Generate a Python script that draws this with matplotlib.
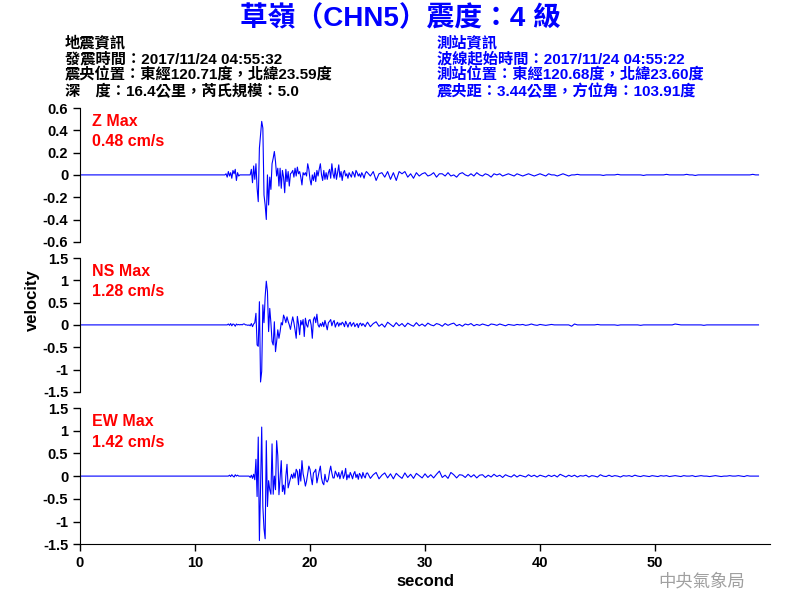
import matplotlib
matplotlib.use("Agg")
import matplotlib.pyplot as plt
import numpy as np

plt.rcParams['font.family'] = ['Liberation Sans', 'Noto Sans CJK TC', 'DejaVu Sans']
plt.rcParams['axes.unicode_minus'] = False

# header text
title = "草嶺（CHN5）震度：4 級"
quake_info = ["地震資訊",
              "發震時間：2017/11/24 04:55:32",
              "震央位置：東經120.71度，北緯23.59度",
              "深　度：16.4公里，芮氏規模：5.0"]
station_info = ["測站資訊",
                "波線起始時間：2017/11/24 04:55:22",
                "測站位置：東經120.68度，北緯23.60度",
                "震央距：3.44公里，方位角：103.91度"]

# sampling of the traces
early_start, early_dt = 12.5, 0.1   # 12.5 .. 24.9 s
late_start, late_dt = 25.0, 0.25    # 25.0 .. 59.0 s

# Z component (cm/s)
z_early = [
    0, 0, 0.01, -0.02, 0.03, -0.01, 0.02, -0.03, 0.04, 0.01,
    0.05, -0.05, 0.02, -0.01, 0, 0, 0, 0, 0, 0,
    0, 0, 0, 0, 0.05, -0.07, 0.08, -0.04, 0.10, -0.12,
    -0.24, 0.24, 0.36, 0.48, 0.42, -0.18, -0.27, -0.40, 0.0, -0.27,
    -0.02, -0.13, 0.10, 0.15, 0.21, 0.12, -0.01, 0.06, -0.10, 0.06,
    -0.12, 0.04, -0.02, -0.16, 0.05, -0.06, 0.03, -0.10, 0.01, 0.02,
    0.04, -0.02, 0.06, -0.01, 0.07, 0.01, 0.03, -0.02, -0.09, 0.02,
    0.0, 0.02, -0.01, 0.10, 0.05, -0.04, -0.09, 0.0, -0.05, 0.02,
    -0.06, 0.04, -0.01, 0.05, 0.10, 0.0, -0.05, 0.04, -0.04, 0.02,
    -0.04, 0.02, 0.05, -0.03, 0.10, 0.01, -0.03, 0.06, -0.04, 0.02,
    0.09, -0.02, 0.03, -0.05, 0.02, 0.04, -0.01, 0.01, -0.03, 0.02,
    0.0, -0.02, 0.03, 0.01, -0.02, 0.04, 0.02, -0.01, 0.01, -0.02,
    0.02, 0.0, -0.03, 0.01, 0.03,
]
z_late = [
    0.02, -0.01, 0.03, -0.05, 0.01, 0.02, -0.02, 0.03, -0.04, 0.02,
    -0.05, 0.03, 0.01, 0.03, -0.02, 0.01, -0.03, 0.02, -0.01, 0.01,
    0.02, -0.01, 0.0, 0.02, -0.02, 0.01, 0.01, -0.01, 0.02, -0.01,
    0.0, -0.02, 0.01, 0.02, 0.0, -0.01, 0.01, -0.01, 0.02, 0.0,
    -0.01, 0.01, 0.0, -0.02, 0.01, 0.0, 0.01, -0.01, 0.0, 0.01,
    0.0, -0.01, 0.01, 0.0, -0.01, 0.0, 0.01, 0.0, -0.01, 0.0,
    0.01, 0.0, -0.01, 0.01, 0.0, 0.0, -0.01, 0.0, 0.01, 0.0,
    -0.01, 0, 0, 0.005, 0, 0, 0, 0, 0, 0,
    0, 0, -0.005, 0, 0, 0, 0, 0.005, 0, 0,
    0, 0, 0, 0, 0, 0, -0.005, 0, 0, 0,
    0, 0, 0, 0, 0.005, 0, 0, 0, 0, 0,
    0, 0.005, 0, 0, -0.005, 0, 0, 0, 0, 0,
    0, 0, 0, 0, 0, 0, 0, 0, 0, 0,
    0, 0, 0, 0, 0.005, 0, 0,
]

# NS component (cm/s)
ns_early = [
    0, 0, 0, 0, 0.02, -0.01, 0.03, -0.02, 0.02, 0.01,
    -0.03, 0.02, 0.0, 0.01, 0.0, 0.01, 0.0, 0.02, 0.02, 0.0,
    0.0, -0.01, 0.0, -0.02, 0.03, -0.04, 0.02, 0.05, 0.26, -0.45,
    -0.48, 0.52, -1.28, -1.04, 0.45, 0.05, 0.63, 0.98, 0.75, -0.15,
    0.37, 0.05, -0.37, -0.45, 0.07, -0.60, -0.37, -0.11, -0.30, -0.15,
    0.05, 0.0, 0.22, 0.15, 0.05, 0.18, 0.08, 0.0, -0.10, 0.05,
    0.18, 0.05, -0.11, -0.30, 0.19, 0.02, -0.22, 0.10, 0.0, 0.12,
    -0.26, 0.15, 0.0, -0.05, 0.10, 0.12, 0.0, -0.30, 0.12, 0.18,
    0.05, 0.24, 0.0, -0.05, 0.03, -0.03, 0.06, -0.04, 0.10, 0.0,
    -0.11, 0.05, 0.08, 0.12, -0.02, 0.06, 0.10, -0.05, 0.02, 0.06,
    -0.03, 0.04, 0.0, 0.06, 0.03, -0.04, 0.08, 0.02, -0.05, 0.03,
    0.06, -0.03, 0.02, 0.05, -0.04, 0.0, 0.03, -0.06, 0.02, 0.04,
    -0.02, 0.03, 0.0, -0.04, 0.02,
]
ns_late = [
    0.06, -0.04, 0.03, 0.07, -0.03, 0.02, -0.05, 0.06, 0.01, -0.04,
    0.05, -0.02, 0.03, -0.04, 0.04, 0.0, -0.03, 0.05, -0.02, 0.02,
    -0.03, 0.04, 0.0, -0.02, 0.03, 0.01, -0.03, 0.03, -0.01, 0.02,
    0.04, -0.02, 0.01, -0.03, 0.02, 0.0, 0.03, -0.02, 0.01, -0.01,
    0.02, 0.0, -0.02, 0.02, 0.01, -0.01, 0.02, 0.0, -0.02, 0.01,
    0.0, -0.01, 0.01, 0.0, 0.01, -0.01, 0.0, 0.02, 0.0, -0.01,
    0.01, 0.0, -0.01, 0.0, 0.01, 0.0, 0.0, 0.0, 0.0, 0.0,
    0.0, -0.03, 0.02, 0.0, 0.0, 0.0, 0.0, 0.0, 0.0, 0.0,
    0.01, 0.0, 0.0, 0.0, 0.0, 0.0, 0.0, -0.01, 0.0, 0.0,
    0.0, 0.0, 0.0, 0.0, 0.0, -0.01, 0.0, 0.0, 0.0, 0.0,
    0.0, 0.0, 0.0, 0.0, 0.0, 0.0, 0.0, 0.02, 0.01, 0.0,
    0.0, 0.0, 0.0, 0.0, 0.0, 0.0, 0.0, -0.01, 0.0, 0.0,
    0.0, 0.0, 0.0, 0.0, 0.0, 0.0, 0.0, 0.0, 0.0, 0.0,
    0.0, 0.0, 0.0, 0.0, 0.0, 0.0, 0.0,
]

# EW component (cm/s)
ew_early = [
    0, 0, 0, 0, 0, 0.02, -0.01, 0.03, 0.0, -0.02,
    0.03, 0.0, 0.02, 0.0, 0.0, 0.0, 0.0, 0.0, 0.0, 0.0,
    0.0, 0.0, 0.0, -0.03, 0.02, -0.05, 0.04, -0.08, 0.37, -0.45,
    0.86, -1.42, -0.25, 1.08, -0.67, -1.16, -1.38, 0.78, -0.67, -0.10,
    -0.30, -0.40, 0.71, -0.40, 0.0, -0.30, 0.78, 0.45, -0.41, -0.05,
    0.34, -0.34, -0.20, -0.40, 0.0, 0.26, -0.26, -0.15, -0.05, 0.04,
    -0.05, 0.07, -0.04, 0.15, 0.10, -0.19, 0.15, -0.11, 0.34, 0.05,
    -0.07, -0.22, -0.11, 0.05, 0.22, 0.15, -0.04, -0.19, 0.07, 0.10,
    0.15, -0.15, -0.02, 0.11, 0.22, -0.04, -0.15, -0.19, 0.04, -0.10,
    -0.13, -0.07, 0.10, 0.22, 0.07, -0.04, -0.04, 0.11, 0.05, -0.02,
    0.08, -0.06, 0.04, 0.12, -0.05, 0.02, 0.17, -0.08, 0.03, -0.04,
    0.08, 0.02, -0.06, 0.05, 0.10, -0.03, 0.04, -0.07, 0.06, 0.02,
    -0.05, 0.08, 0.0, -0.04, 0.06,
]
ew_late = [
    0.07, -0.05, 0.03, 0.08, -0.06, 0.02, 0.07, -0.04, 0.05, -0.06,
    0.06, 0.0, -0.05, 0.07, -0.03, 0.04, -0.05, 0.06, 0.01, -0.04,
    0.05, -0.03, 0.03, -0.04, 0.04, 0.11, -0.03, 0.02, -0.05, 0.08,
    0.03, -0.04, 0.03, 0.02, -0.03, 0.04, -0.02, 0.03, -0.04, 0.02,
    0.03, -0.03, 0.02, -0.02, 0.04, -0.01, 0.02, -0.03, 0.03, 0.0,
    -0.02, 0.03, -0.02, 0.02, 0.0, -0.02, 0.03, -0.01, 0.02, -0.02,
    0.02, 0.0, -0.02, 0.02, -0.01, 0.02, -0.02, 0.04, 0.01, -0.02,
    0.02, -0.01, 0.02, -0.02, 0.01, 0.0, 0.02, -0.02, 0.01, 0.0,
    -0.02, 0.03, 0.0, -0.01, 0.02, -0.01, 0.01, 0.0, -0.02, 0.01,
    0.0, 0.01, -0.01, 0.02, 0.0, -0.01, 0.01, 0.0, -0.01, 0.01,
    0.0, -0.01, 0.01, 0.0, 0.01, -0.01, 0.0, 0.01, 0.0, -0.01,
    0.01, 0.0, 0.0, 0.01, -0.01, 0.0, 0.01, 0.0, 0.0, -0.01,
    0.0, 0.01, 0.0, -0.01, 0.0, 0.0, 0.01, 0.0, 0.0, 0.01,
    0.0, -0.01, 0.01, 0.0, 0.0, 0.0, 0.0,
]

names = ["Z", "NS", "EW"]
maxima = ["0.48", "1.28", "1.42"]
limits = [0.6, 1.5, 1.5]
tick_steps = [0.2, 0.5, 0.5]
traces = [(z_early, z_late), (ns_early, ns_late), (ew_early, ew_late)]


def build_trace(early, late):
    t_early = early_start + early_dt * np.arange(len(early))
    t_late = late_start + late_dt * np.arange(len(late))
    t = np.concatenate([[0.0], t_early, t_late])
    v = np.concatenate([[0.0], early, late])
    return t, v


fig = plt.figure(figsize=(8, 6), dpi=100)
panel_boxes = [(0.1, 0.597, 0.8625, 0.223),
               (0.1, 0.347, 0.8625, 0.223),
               (0.1, 0.093, 0.8625, 0.227)]

for i, (name, mx, lim, step, (early, late)) in enumerate(
        zip(names, maxima, limits, tick_steps, traces)):
    ax = fig.add_axes(panel_boxes[i])
    t, v = build_trace(early, late)
    ax.plot(t, v, color='#0000ff', lw=0.8)
    ax.set_xlim(0, 60)
    ax.set_ylim(-lim, lim)
    yt = np.round(np.arange(-lim, lim + step / 2, step), 2)
    ax.set_yticks(yt)
    ax.set_yticklabels(['%g' % y for y in yt])
    for s in ['top', 'right']:
        ax.spines[s].set_visible(False)
    ax.tick_params(axis='y', direction='out', length=5, width=1, labelsize=10.5)
    for lab in ax.get_yticklabels():
        lab.set_fontweight('bold')
    if i < 2:
        ax.spines['bottom'].set_visible(False)
        ax.set_xticks([])
    else:
        ax.set_xticks([0, 10, 20, 30, 40, 50])
        ax.tick_params(axis='x', direction='out', length=5, width=1, labelsize=10.5)
        for lab in ax.get_xticklabels():
            lab.set_fontweight('bold')
        ax.set_xlabel('second', fontsize=12, fontweight='bold', labelpad=3)
    ax.text(0.017, 0.9, name + ' Max', transform=ax.transAxes, color='red',
            fontsize=11.5, fontweight='bold', va='center')
    ax.text(0.017, 0.75, mx + ' cm/s', transform=ax.transAxes, color='red',
            fontsize=11.5, fontweight='bold', va='center')

fig.text(0.04, 0.5, 'velocity', rotation=90, fontsize=12, fontweight='bold',
         ha='center', va='center')

fig.text(0.5, 0.968, title, color='#0000ff', fontsize=20, fontweight='bold',
         ha='center', va='center')
for k, line in enumerate(quake_info):
    fig.text(0.081, 0.928 - k * 0.0267, line, fontsize=11, fontweight='bold',
             va='center')
for k, line in enumerate(station_info):
    fig.text(0.546, 0.928 - k * 0.0267, line, fontsize=11, fontweight='bold',
             color='#0000ff', va='center')

fig.text(0.932, 0.032, '中央氣象局', color='#a0a0a0', fontsize=12.5,
         ha='right', va='center')

fig.savefig('out.png', dpi=100)
